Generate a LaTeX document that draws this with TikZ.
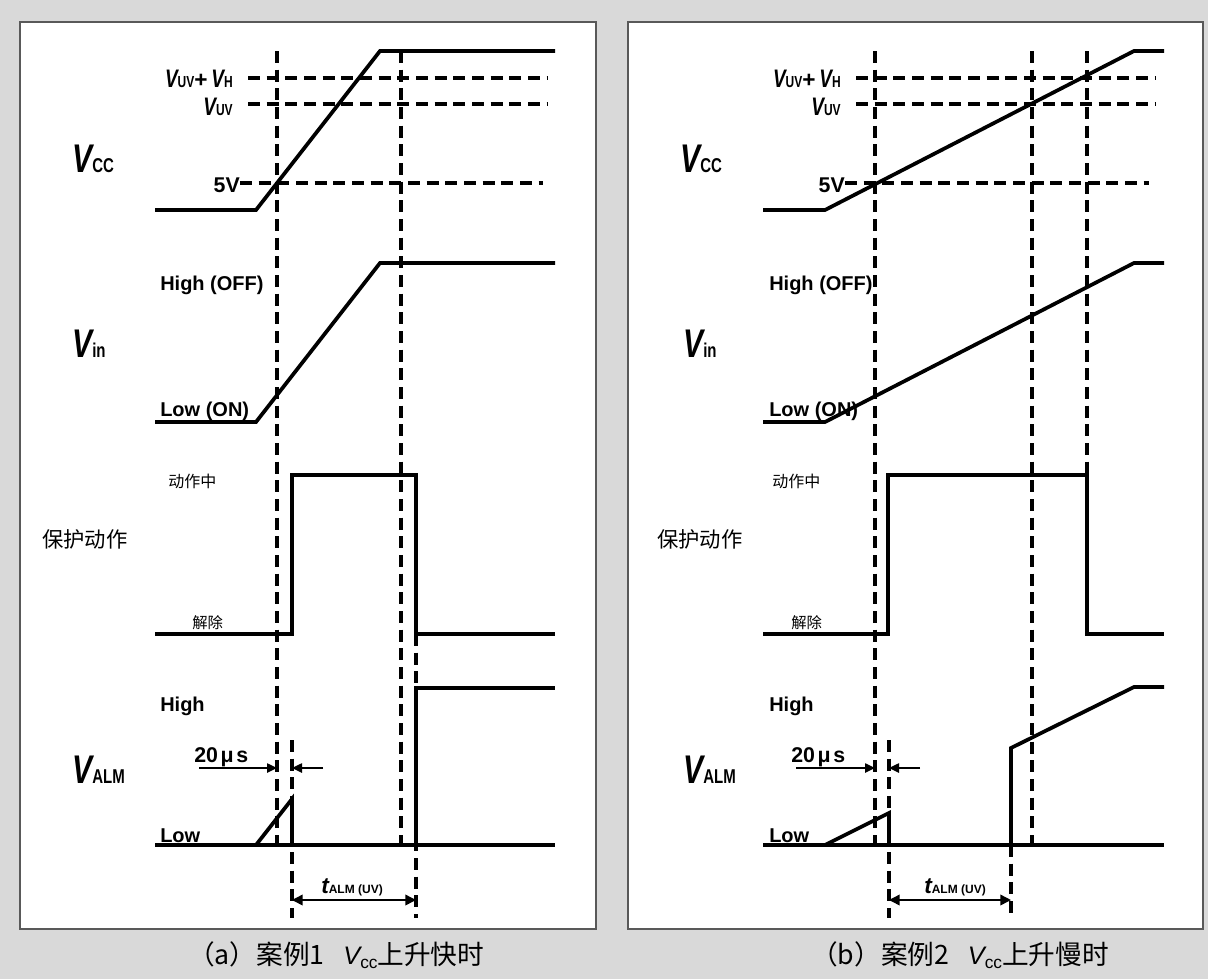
\documentclass[tikz,border=0pt]{standalone}
\usepackage{fontspec}
\setmainfont{Liberation Sans}
\newfontfamily\narrowsf[FakeStretch=0.75]{Liberation Sans}
\newfontfamily\cjk{Noto Sans CJK SC}
\usetikzlibrary{arrows.meta}

\definecolor{bggray}{HTML}{D9D9D9}
\newcommand{\sig}[4]{{\narrowsf\bfseries\itshape\fontsize{#3}{#3}\selectfont #1}{\narrowsf\bfseries\fontsize{#4}{#4}\selectfont #2}}

\tikzset{
  wave/.style={line width=2.8pt},
  guide/.style={line width=2.5pt, dash pattern=on 9pt off 5pt},
  dimline/.style={line width=1.1pt, -{Triangle[length=7.5pt,width=7pt]}},
  twoway/.style={line width=1.1pt, {Triangle[length=8pt,width=8pt]}-{Triangle[length=8pt,width=8pt]}},
  lvl/.style={inner sep=0pt, anchor=base west, font=\bfseries\fontsize{15}{15}\selectfont},
  cn/.style={inner sep=0pt, anchor=west, font=\cjk\fontsize{#1}{#1}\selectfont},
  panel/.style={draw=black!65, line width=0.9pt, fill=white},
}

\begin{document}
\begin{tikzpicture}[x=0.75pt,y=-0.75pt]
\fill[bggray] (0,0) rectangle (1208,979);
\useasboundingbox (0,0) rectangle (1208,979);

% (a) fast rise
\begin{scope}
  \draw[panel] (20,22) rectangle (596,929);
  \draw[guide] (277,51) -- (277,845);
  \draw[guide] (401,51) -- (401,845);
  \draw[guide] (292,740) -- (292,918);
  \draw[guide] (416,634) -- (416,918);
  \draw[guide] (248,78) -- (548,78);
  \draw[guide] (248,104) -- (548,104);
  \draw[guide] (240,183) -- (543,183);
  \draw[wave] (155,210) -- (256,210) -- (380,51) -- (555,51);
  \draw[wave] (155,422) -- (256,422) -- (380,263) -- (555,263);
  \draw[wave] (155,634) -- (292,634) -- (292,475) -- (416,475) -- (416,634) -- (555,634);
  \draw[wave] (155,845) -- (555,845);
  \draw[wave] (256,845) -- (292,799) -- (292,845);
  \draw[wave] (416,845) -- (416,688) -- (555,688);

  \node[inner sep=0pt, anchor=base west] (vcca) at (72,172) {\sig{V}{CC}{30}{15}};
  \node[inner sep=0pt, anchor=base west] (vina) at (72,357) {\sig{V}{in}{30}{15}};
  \node[cn=16] (prota) at (42,539) {保护动作};
  \node[inner sep=0pt, anchor=base west] (alma) at (72,783) {\sig{V}{ALM}{30}{15}};

  \node[inner sep=0pt, anchor=base east] (uvha) at (233,87) {\sig{V}{UV}{19}{12}{\bfseries\fontsize{17}{17}\selectfont +\,}\sig{V}{H}{19}{12}};
  \node[inner sep=0pt, anchor=base east] (uva) at (233,115) {\sig{V}{UV}{19}{12}};
  \node[inner sep=0pt, anchor=base east, font=\bfseries\fontsize{16}{16}\selectfont] (fiva) at (240,192) {5V};
  \node[lvl] (offa) at (160,290) {High (OFF)};
  \node[lvl] (ona) at (160,416) {Low (ON)};
  \node[cn=12] (acta) at (168,481) {动作中};
  \node[cn=11.5] (rela) at (192,623) {解除};
  \node[lvl] (hia) at (160,711) {High};
  \node[lvl] (loa) at (160,842) {Low};
  \node[lvl, font=\bfseries\fontsize{16}{16}\selectfont] (usa) at (194,762) {20\hspace{2pt}μ\hspace{2pt}s};

  \coordinate (ula) at (199,768);
  \coordinate (ura) at (323,768);
  \draw[dimline] (ula) -- (277,768);
  \draw[dimline] (ura) -- (292,768);
  \coordinate (tla) at (292,900);
  \coordinate (tra) at (416,900);
  \draw[twoway] (tla) -- (tra);
  \node[inner sep=0pt, anchor=base west] (talma) at (321,893) {{\bfseries\itshape\fontsize{17}{17}\selectfont t}{\bfseries\fontsize{9}{9}\selectfont ALM (UV)}};

  \node[inner sep=0pt, anchor=west] (capa) at (188,955) {{\cjk\fontsize{20}{20}\selectfont （a）案例1}\hspace{14pt}{\fontsize{19}{19}\selectfont\itshape V}\raisebox{-3pt}{\fontsize{13}{13}\selectfont cc}{\cjk\fontsize{20}{20}\selectfont 上升快时}};
\end{scope}

% (b) slow rise
\begin{scope}[shift={(608,0)}]
  \draw[panel] (20,22) rectangle (595,929);
  \draw[guide] (267,51) -- (267,845);
  \draw[guide] (424,51) -- (424,845);
  \draw[guide] (479,51) -- (479,475);
  \draw[guide] (281,740) -- (281,918);
  \draw[guide] (403,845) -- (403,918);
  \draw[guide] (248,78) -- (547,78);
  \draw[guide] (248,104) -- (547,104);
  \draw[guide] (237,183) -- (541,183);
  \draw[wave] (155,210) -- (217,210) -- (526,51) -- (556,51);
  \draw[wave] (155,422) -- (217,422) -- (526,263) -- (556,263);
  \draw[wave] (155,634) -- (280,634) -- (280,475) -- (479,475) -- (479,634) -- (556,634);
  \draw[wave] (155,845) -- (556,845);
  \draw[wave] (217,845) -- (281,813) -- (281,845);
  \draw[wave] (403,845) -- (403,748) -- (526,687) -- (556,687);

  \node[inner sep=0pt, anchor=base west] (vccb) at (72,172) {\sig{V}{CC}{30}{15}};
  \node[inner sep=0pt, anchor=base west] (vinb) at (75,357) {\sig{V}{in}{30}{15}};
  \node[cn=16] (protb) at (49,539) {保护动作};
  \node[inner sep=0pt, anchor=base west] (almb) at (75,783) {\sig{V}{ALM}{30}{15}};

  \node[inner sep=0pt, anchor=base east] (uvhb) at (233,87) {\sig{V}{UV}{19}{12}{\bfseries\fontsize{17}{17}\selectfont +\,}\sig{V}{H}{19}{12}};
  \node[inner sep=0pt, anchor=base east] (uvb) at (233,115) {\sig{V}{UV}{19}{12}};
  \node[inner sep=0pt, anchor=base east, font=\bfseries\fontsize{16}{16}\selectfont] (fivb) at (237,192) {5V};
  \node[lvl] (offb) at (161,290) {High (OFF)};
  \node[lvl] (onb) at (161,416) {Low (ON)};
  \node[cn=12] (actb) at (164,481) {动作中};
  \node[cn=11.5] (relb) at (183,623) {解除};
  \node[lvl] (hib) at (161,711) {High};
  \node[lvl] (lob) at (161,842) {Low};
  \node[lvl, font=\bfseries\fontsize{16}{16}\selectfont] (usb) at (183,762) {20\hspace{2pt}μ\hspace{2pt}s};

  \coordinate (ulb) at (188,768);
  \coordinate (urb) at (312,768);
  \draw[dimline] (ulb) -- (267,768);
  \draw[dimline] (urb) -- (281,768);
  \coordinate (tlb) at (281,900);
  \coordinate (trb) at (403,900);
  \draw[twoway] (tlb) -- (trb);
  \node[inner sep=0pt, anchor=base west] (talmb) at (316,893) {{\bfseries\itshape\fontsize{17}{17}\selectfont t}{\bfseries\fontsize{9}{9}\selectfont ALM (UV)}};

  \node[inner sep=0pt, anchor=west] (capb) at (203,955) {{\cjk\fontsize{20}{20}\selectfont （b）案例2}\hspace{14pt}{\fontsize{19}{19}\selectfont\itshape V}\raisebox{-3pt}{\fontsize{13}{13}\selectfont cc}{\cjk\fontsize{20}{20}\selectfont 上升慢时}};
\end{scope}
\end{tikzpicture}
\end{document}
